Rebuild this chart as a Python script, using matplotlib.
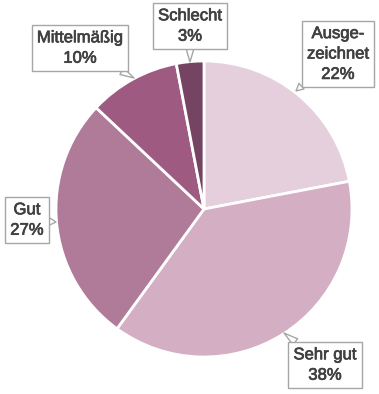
import numpy as np
import matplotlib.pyplot as plt
import matplotlib.patheffects as pe

labels = ['Ausge-\nzeichnet', 'Sehr gut', 'Gut', 'Mittelmäßig', 'Schlecht']
values = [22, 38, 27, 10, 3]
colors = ['#e5cfdc', '#d4afc4', '#b07a99', '#9e5a80', '#744462']

# label box centres and pointer tips (pixel coords, y from top)
box_pos = [(338, 54), (325, 365), (27, 220), (80, 48), (190, 26)]
tip_pos = [(296, 91), (284, 333), (56, 222), (134, 78), (190, 62)]

plt.rcParams['font.family'] = ['Liberation Sans', 'DejaVu Sans']

W, H = 379, 394
fig = plt.figure(figsize=(W / 100, H / 100), dpi=100)
ax = fig.add_axes([0, 0, 1, 1])

ax.pie(values, colors=colors, startangle=90, counterclock=False,
       center=(204, H - 209), radius=148,
       wedgeprops=dict(edgecolor='white', linewidth=2))

txt = dict(ha='center', va='center', fontsize=12, linespacing=1.45)
for lab, v, (bx, by), (tx, ty) in zip(labels, values, box_pos, tip_pos):
    s = f'{lab}\n{v}%'
    # box + pointer (text hidden), then the visible label on top
    ax.annotate(s, xy=(tx, H - ty), xytext=(bx, H - by), color='none',
                zorder=5,
                bbox=dict(boxstyle='square,pad=0.3', fc='white',
                          ec='#a6a6a6', lw=1),
                arrowprops=dict(arrowstyle='wedge,tail_width=0.45',
                                fc='white', ec='#a6a6a6', lw=1,
                                shrinkA=0, shrinkB=0), **txt)
    ax.text(bx, H - by, s, color='#404040', zorder=6,
            path_effects=[pe.withStroke(linewidth=0.5, foreground='#404040')],
            **txt)

ax.set_xlim(0, W)
ax.set_ylim(0, H)
ax.set_aspect('equal')
ax.axis('off')
fig.savefig('out.png', dpi=100)
